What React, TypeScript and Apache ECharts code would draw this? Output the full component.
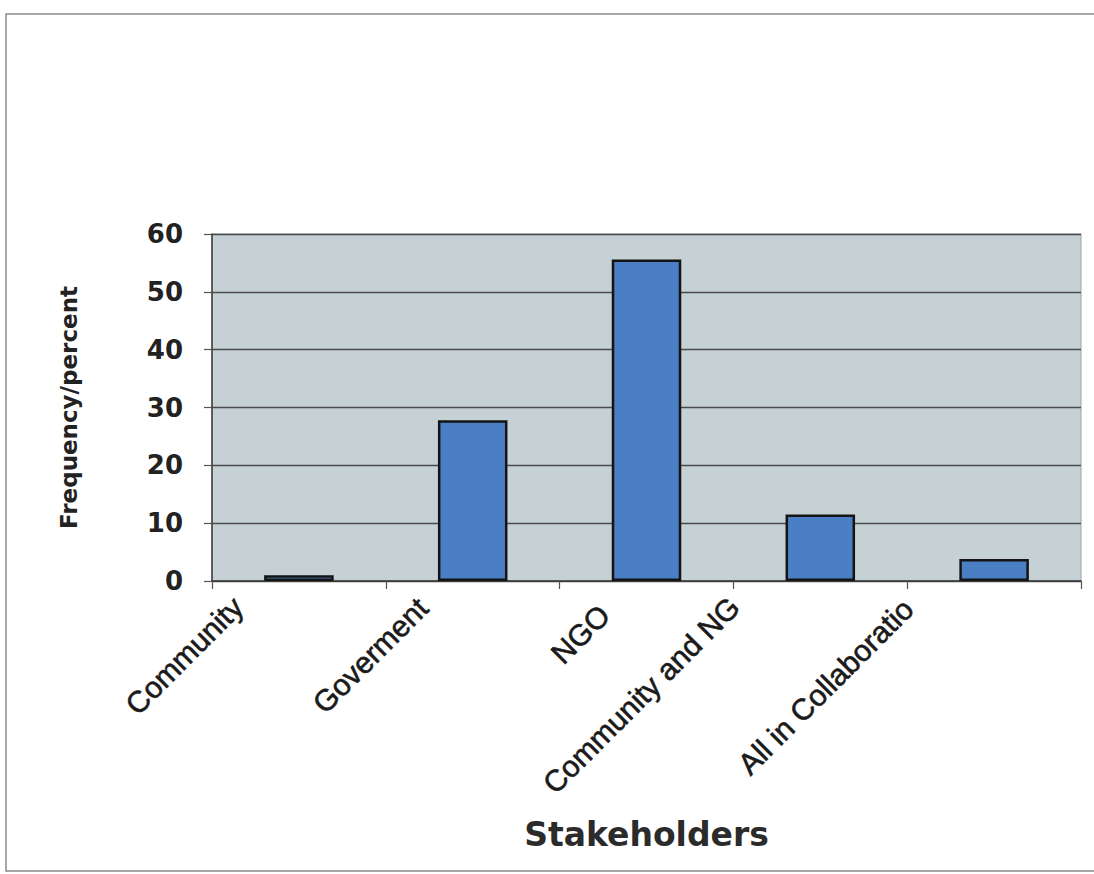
import React, { useEffect, useRef } from "react";
import * as echarts from "echarts";

// Stakeholder categories (long names appear truncated on the axis)
const categories: string[] = [
  "Community",
  "Goverment",
  "NGO",
  "Community and NGO",
  "All in Collaboration",
];
const axisLabelTexts: string[] = [
  "Community",
  "Goverment",
  "NGO",
  "Community and NG",
  "All in Collaboratio",
];
// Frequency / percent per stakeholder
const values: number[] = [1, 27.8, 55.6, 11.5, 3.8];

const yTicks = { min: 0, max: 60, interval: 10 };

// Nudges for the slanted category labels (px, relative to category centre / axis line)
const labelNudgeX: number[] = [-61, -50, -42, -86, -86];
const labelNudgeY: number[] = [21, 22, 29, 21, 23];

const FONT = "DejaVu Sans";
const LABEL_FONT = "Liberation Sans";

export default function App() {
  const ref = useRef<HTMLDivElement | null>(null);

  useEffect(() => {
    document.body.style.margin = "0";
    const el = ref.current;
    if (!el) return;
    const chart = echarts.init(el, undefined, { renderer: "svg" });

    const gridLeft = 212;
    const gridTop = 234;
    const gridRight = 1094 - 1081;
    const gridBottom = 874 - 581;

    chart.setOption({
      animation: false,
      backgroundColor: "#ffffff",
      grid: {
        left: gridLeft,
        top: gridTop,
        right: gridRight,
        bottom: gridBottom,
        show: true,
        backgroundColor: "#c6d1d5",
        borderColor: "#9aa3a8",
        borderWidth: 1,
      },
      xAxis: {
        type: "category",
        data: categories,
        boundaryGap: true,
        axisLine: { show: true, lineStyle: { color: "#3a3a3a", width: 1.5 } },
        axisTick: {
          show: true,
          inside: false,
          length: 8,
          alignWithLabel: false,
          lineStyle: { color: "#555", width: 1.2 },
        },
        axisLabel: { show: false },
        splitLine: { show: false },
        name: "Stakeholders",
        nameLocation: "middle",
        nameGap: 237,
        nameTextStyle: {
          fontFamily: FONT,
          fontWeight: "bold",
          fontSize: 33,
          color: "#2b2b2b",
        },
      },
      yAxis: {
        type: "value",
        min: yTicks.min,
        max: yTicks.max,
        interval: yTicks.interval,
        axisLine: { show: true, lineStyle: { color: "#3a3a3a", width: 1.5 } },
        axisTick: { show: true, length: 8, lineStyle: { color: "#555", width: 1.2 } },
        axisLabel: {
          margin: 29,
          fontFamily: FONT,
          fontWeight: "bold",
          fontSize: 26,
          color: "#222",
        },
        splitLine: { show: true, lineStyle: { color: "#4a4a4a", width: 1.3 } },
        name: "Frequency/percent",
        nameLocation: "middle",
        nameGap: 132,
        nameRotate: 90,
        nameTextStyle: {
          fontFamily: FONT,
          fontWeight: "bold",
          fontSize: 23,
          color: "#222",
        },
      },
      series: [
        {
          type: "bar",
          data: values,
          barWidth: "40%",
          itemStyle: {
            color: "#4b7fc5",
            borderColor: "#141414",
            borderWidth: 2.5,
          },
        },
      ],
    });

    // Slanted category labels, anchored at each category's pixel position
    const labels = categories.map((c, i) => {
      const [px, py] = chart.convertToPixel({ gridIndex: 0 }, [c, 0]) as number[];
      return {
        type: "text",
        x: px + labelNudgeX[i],
        y: py + labelNudgeY[i],
        rotation: Math.PI / 4,
        style: {
          text: axisLabelTexts[i],
          x: 0,
          y: 0,
          align: "right",
          verticalAlign: "middle",
          fontFamily: LABEL_FONT,
          fontSize: 30,
          fill: "#1a1a1a",
          stroke: "#1a1a1a",
          lineWidth: 0.6,
        },
        z: 10,
      };
    });

    chart.setOption({
      graphic: [
        {
          type: "rect",
          shape: { x: 6, y: 14, width: 1200, height: 857 },
          style: { fill: "none", stroke: "#8a8a8a", lineWidth: 1.5 },
          silent: true,
          z: -1,
        },
        ...labels,
      ],
    });

    return () => chart.dispose();
  }, []);

  return (
    <div
      ref={ref}
      style={{ position: "absolute", left: 0, top: 0, width: 1094, height: 874 }}
    />
  );
}
